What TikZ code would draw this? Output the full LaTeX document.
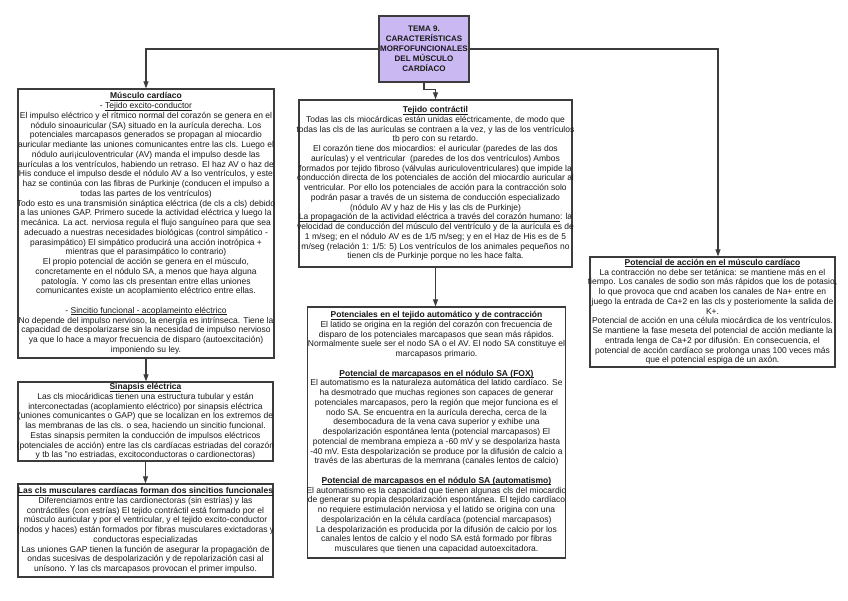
\documentclass[tikz,border=0pt]{standalone}
\usepackage{fontspec}
\setmainfont{Liberation Sans}
\usetikzlibrary{arrows.meta}
\definecolor{lav}{RGB}{201,184,242}
\definecolor{edge}{RGB}{60,60,60}
\definecolor{ink}{RGB}{25,25,25}
\newsavebox{\ulbox}
\newcommand{\ul}[1]{\sbox{\ulbox}{#1}\rlap{\rule[-1.5pt]{\wd\ulbox}{0.5pt}}\usebox{\ulbox}}
\newcommand{\hd}[1]{\ul{\textbf{#1}}}
\newcommand{\zw}[1]{\hbox to 0pt{\hss#1\hss}}
\begin{document}
\lineskiplimit=-20pt
\lineskip=0pt
\begin{tikzpicture}[x=1pt,y=-1pt,
  box/.style={draw=edge, line width=1.3pt, fill=white, align=center, inner sep=0pt,
    text=ink, font=\fontsize{8.5}{9.75}\selectfont},
  titlebox/.style={draw=edge, line width=1.3pt, fill=lav, align=center, inner sep=0pt,
    text=ink, font=\fontsize{8}{10}\selectfont\bfseries},
  conn/.style={draw=edge, line width=1.1pt, -{Triangle[width=5pt,length=7pt]}},
]
\useasboundingbox (0,0) rectangle (848,600);
\fill[white] (0,0) rectangle (848,600);

\node[titlebox, minimum width=90pt, minimum height=66pt] (t) at (424,49)
  {TEMA 9.\\CARACTERÍSTICAS\\ \zw{MORFOFUNCIONALES}\\DEL MÚSCULO\\CARDÍACO};

\node[box, minimum width=256pt, minimum height=269pt] (a) at (146,223.5) {%
\hd{Músculo cardíaco}\\
- \ul{Tejido excito-conductor}\\
\zw{El impulso eléctrico y el rítmico normal del corazón se genera en el}\\
nódulo sinoauricular (SA) situado en la aurícula derecha. Los\\
potenciales marcapasos generados se propagan al miocardio\\
\zw{auricular mediante las uniones comunicantes entre las cls. Luego el}\\
nódulo auri¡iculoventricular (AV) manda el impulso desde las\\
\zw{aurículas a los ventrículos, habiendo un retraso. El haz AV o haz de}\\
\zw{His conduce el impulso desde el nódulo AV a lso ventrículos, y este}\\
haz se continúa con las fibras de Purkinje (conducen el impulso a\\
todas las partes de los ventrículos)\\
\zw{Todo esto es una transmisión sináptica eléctrica (de cls a cls) debido}\\
a las uniones GAP. Primero sucede la actividad eléctrica y luego la\\
mecánica. La act. nerviosa regula el flujo sanguíneo para que sea\\
adecuado a nuestras necesidades biológicas (control simpático -\\
parasimpático) El simpático producirá una acción inotrópica +\\
mientras que el parasimpático lo contrario)\\
El propio potencial de acción se genera en el músculo,\\
concretamente en el nódulo SA, a menos que haya alguna\\
patología. Y como las cls presentan entre ellas uniones\\
comunicantes existe un acoplamiento eléctrico entre ellas.\\
\mbox{}\\
- \ul{Sincitio funcional - acoplameinto eléctrico}\\
\zw{No depende del impulso nervioso, la energía es intrínseca. Tiene la}\\
capacidad de despolarizarse sin la necesidad de impulso nervioso\\
ya que lo hace a mayor frecuencia de disparo (autoexcitación)\\
imponiendo su ley.};

\node[box, minimum width=255pt, minimum height=79pt] (b) at (145.5,421.5) {%
\hd{Sinapsis eléctrica}\\
Las cls miocáridicas tienen una estructura tubular y están\\
interconectadas (acoplamiento eléctrico) por sinapsis eléctrica\\
\zw{(uniones comunicantes o GAP) que se localizan en los extremos de}\\
las membranas de las cls. o sea, haciendo un sincitio funcional.\\
Estas sinapsis permiten la conducción de impulsos eléctricos\\
\zw{(potenciales de acción) entre las cls cardíacas estriadas del corazón}\\
y tb las "no estriadas, excitoconductoras o cardionectoras)};

\node[box, minimum width=255pt, minimum height=93pt] (c) at (145.5,530.5) {%
\zw{\hd{Las cls musculares cardíacas forman dos sincitios funcionales}}\\
Diferenciamos entre las cardionectoras (sin estrías) y las\\
contráctiles (con estrías) El tejido contráctil está formado por el\\
\zw{músculo auricular y por el ventricular, y el tejido excito-conductor}\\
\zw{(nodos y haces) están formados por fibras musculares exictadoras y}\\
conductoras especializadas\\
Las uniones GAP tienen la función de asegurar la propagación de\\
ondas sucesivas de despolarización y de repolarización casi al\\
unísono. Y las cls marcapasos provocan el primer impulso.};

\node[box, minimum width=273pt, minimum height=167pt] (d) at (435.5,183.5) {%
\hd{Tejido contráctil}\\
Todas las cls miocárdicas están unidas eléctricamente, de modo que\\
\zw{todas las cls de las aurículas se contraen a la vez, y las de los ventrículos}\\
tb pero con su retardo.\\
El corazón tiene dos miocardios: el auricular (paredes de las dos\\
aurículas) y el ventricular\ \ (paredes de los dos ventrículos) Ambos\\
\zw{formados por tejido fibroso (válvulas auriculoventriculares) que impide la}\\
\zw{conducción directa de los potenciales de acción del miocardio auricular al}\\
ventricular. Por ello los potenciales de acción para la contracción solo\\
podrán pasar a través de un sistema de conducción especializado\\
(nódulo AV y haz de His y las cls de Purkinje)\\
\zw{\ul{La propagación de la actividad eléctrica a través del corazón humano}: la}\\
\zw{velocidad de conducción del músculo del ventrículo y de la aurícula es de}\\
1 m/seg; en el nódulo AV es de 1/5 m/seg; y en el Haz de His es de 5\\
\zw{m/seg (relación 1: 1/5: 5) Los ventrículos de los animales pequeños no}\\
tienen cls de Purkinje porque no les hace falta.};

\node[box, minimum width=258pt, minimum height=251pt] (e) at (436.5,432.5) {%
\hd{Potenciales en el tejido automático y de contracción}\\
El latido se origina en la región del corazón con frecuencia de\\
disparo de los potenciales marcapasos que sean más rápidos.\\
\zw{Normalmente suele ser el nodo SA o el AV. El nodo SA constituye el}\\
marcapasos primario.\\
\mbox{}\\
\hd{Potencial de marcapasos en el nódulo SA (FOX)}\\
\zw{El automatismo es la naturaleza automática del latido cardíaco. Se}\\
ha desmotrado que muchas regiones son capaces de generar\\
potenciales marcapasos, pero la región que mejor funciona es el\\
nodo SA. Se encuentra en la aurícula derecha, cerca de la\\
desembocadura de la vena cava superior y exhibe una\\
despolarización espontánea lenta (potencial marcapasos) El\\
\zw{potencial de membrana empieza a -60 mV y se despolariza hasta}\\
\zw{-40 mV. Esta despolarización se produce por la difusión de calcio a}\\
\zw{través de las aberturas de la memrana (canales lentos de calcio)}\\
\mbox{}\\
\hd{Potencial de marcapasos en el nódulo SA (automatismo)}\\
\zw{El automatismo es la capacidad que tienen algunas cls del miocardio}\\
\zw{de generar su propia despolarización espontánea. El tejido cardíaco}\\
no requiere estimulación nerviosa y el latido se origina con una\\
despolarización en la célula cardíaca (potencial marcapasos)\\
La despolarización es producida por la difusión de calcio por los\\
canales lentos de calcio y el nodo SA está formado por fibras\\
musculares que tienen una capacidad autoexcitadora.};

\node[box, minimum width=245pt, minimum height=110pt] (f) at (712.5,312) {%
\hd{Potencial de acción en el músculo cardíaco}\\
La contracción no debe ser tetánica: se mantiene más en el\\
\zw{tiempo. Los canales de sodio son más rápidos que los de potasio,}\\
lo que provoca que cnd acaben los canales de Na+ entre en\\
\zw{juego la entrada de Ca+2 en las cls y posteriomente la salida de}\\
K+.\\
\zw{Potencial de acción en una célula miocárdica de los ventrículos.}\\
\zw{Se mantiene la fase meseta del potencial de acción mediante la}\\
entrada lenga de Ca+2 por difusión. En consecuencia, el\\
potencial de acción cardíaco se prolonga unas 100 veces más\\
que el potencial espiga de un axón.};

\coordinate (fin) at ([xshift=5.5pt]f.north);
\draw[conn] (t.west) -| (a.north);
\draw[conn] (t.east) -| (fin);
\draw[conn] (t.south) -- ++(0,7) -| (d.north);
\draw[conn] (d.south) -- (d.south |- e.north);
\draw[conn] (a.south) -- (a.south |- b.north);
\draw[conn] (b.south) -- (b.south |- c.north);
\end{tikzpicture}
\end{document}
